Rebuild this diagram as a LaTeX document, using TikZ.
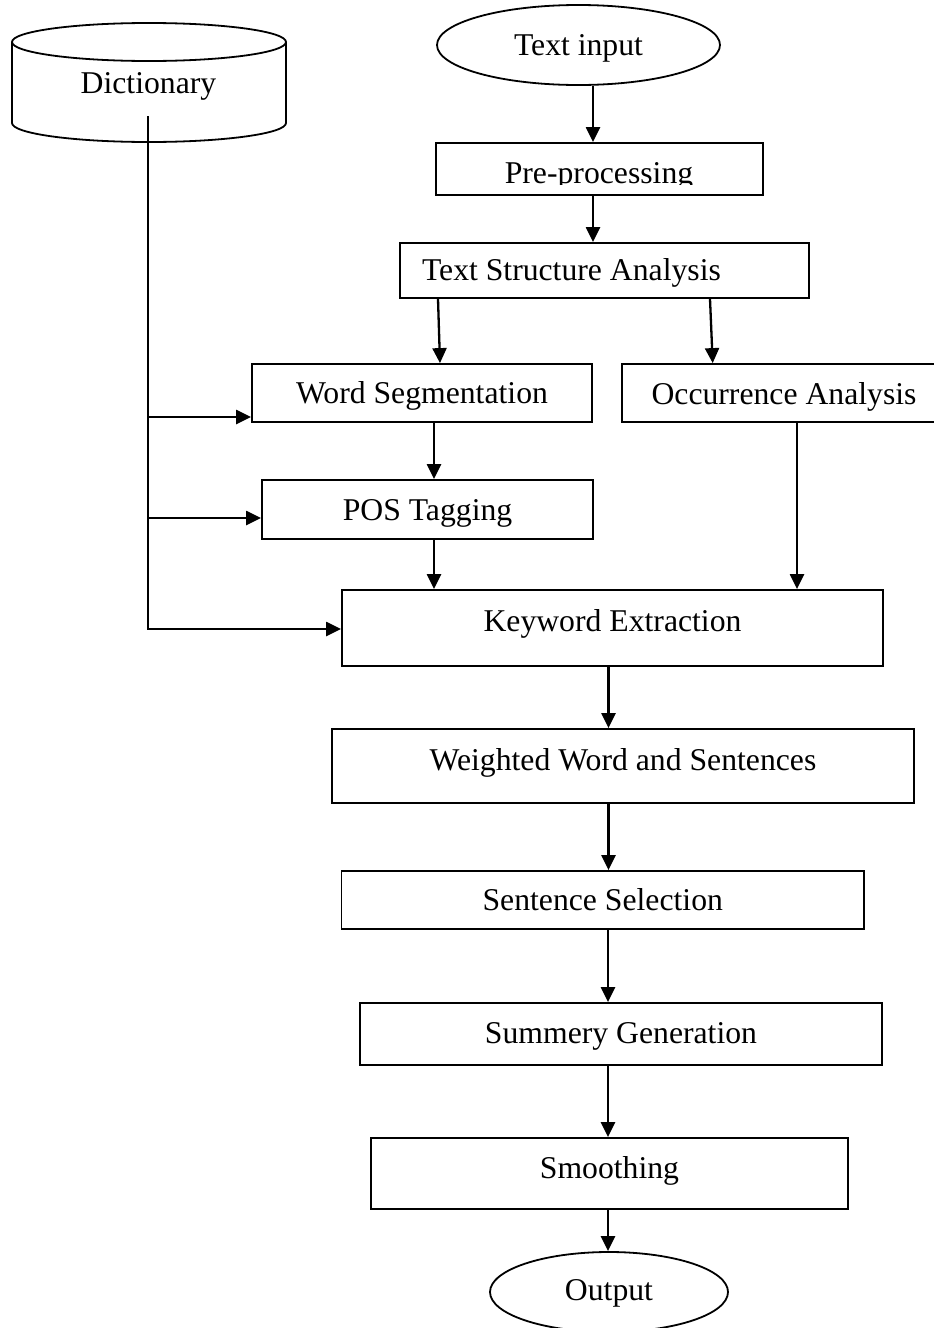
\documentclass[tikz,border=0pt]{standalone}
\usepackage{fontspec}
\setmainfont{Liberation Serif}
\usetikzlibrary{arrows.meta,shapes.geometric,calc}
\begin{document}
\begin{tikzpicture}[x=1pt,y=-1pt,
  every node/.style={font=\fontsize{31.7}{38}\selectfont, inner sep=0pt},
  flowbox/.style={draw, line width=1.8pt, rectangle, text height=22pt},
  oval/.style={draw, line width=1.8pt, ellipse, text height=22pt},
  flow/.style={line width=2.3pt, -{Triangle[length=15pt,width=14pt]}},
  drum/.style={line width=1.8pt}]

\clip (0,0) rectangle (934,1328);

% dictionary store
\draw[drum] (149,42) ellipse [x radius=137, y radius=19];
\draw[drum] (12,42) -- (12,123) arc[start angle=180, end angle=0, x radius=137, y radius=19] -- (286,42);
\node[anchor=base] (dict) at (148.5,93) {Dictionary};

% main chain
\node[oval, minimum width=283, minimum height=80, text depth=2pt] (tin) at (578.5,45) {Text input};
\node[flowbox, minimum width=327, minimum height=52] (pre) at (599.5,169) {};
\begin{scope}
  \clip (pre.north west) rectangle ([yshift=-15pt]pre.east);
  \node[anchor=base] (pretext) at (599,183) {Pre-processing};
\end{scope}
\node[flowbox, minimum width=409, minimum height=55, text depth=3pt] (tsa) at (604.5,270.5)
  {\makebox[365pt][l]{Text Structure Analysis}};
\node[flowbox, minimum width=340, minimum height=58, text depth=2pt] (ws) at (422,393) {Word Segmentation};
\node[flowbox, minimum width=324, minimum height=58, text depth=0pt] (occ) at (784,393) {Occurrence Analysis};
\node[flowbox, minimum width=331, minimum height=59, text depth=1pt] (pos) at (427.5,509.5) {POS Tagging};
\node[flowbox, minimum width=541, minimum height=76, text depth=16pt] (kw) at (612.5,628) {Keyword Extraction};
\node[flowbox, minimum width=582, minimum height=74, text depth=14pt] (ww) at (623,766) {Weighted Word and Sentences};
\node[flowbox, minimum width=522.5, minimum height=58, text depth=2pt] (ss) at (602.75,900) {Sentence Selection};
\node[flowbox, minimum width=522, minimum height=62, text depth=4pt] (sg) at (621,1034) {Summery Generation};
\node[flowbox, minimum width=477, minimum height=71, text depth=13pt] (sm) at (609.5,1173.5) {Smoothing};
\node[oval, minimum width=238, minimum height=80, text depth=6pt] (out) at (609,1292) {Output};

% dictionary feed lines
\coordinate (dictout) at (148,116);
\coordinate (j1) at (148,417);
\coordinate (j2) at (148,518);
\coordinate (j3) at (148,629);
\draw[flow] (dictout) -- (j3) -- (j3 -| kw.west);
\draw[flow] (j1) -- (j1 -| ws.west);
\draw[flow] (j2) -- (j2 -| pos.west);

% flow arrows
\draw[flow] ([xshift=14.5pt]tin.south) -- ([xshift=14.5pt]tin.south |- pre.north);
\draw[flow] ([xshift=-6.5pt]pre.south) -- ([xshift=-6.5pt]pre.south |- tsa.north);
\draw[flow] ([xshift=-166.5pt]tsa.south) -- ([xshift=18pt]ws.north);
\draw[flow] ([xshift=105.5pt]tsa.south) -- ([xshift=-71.3pt]occ.north);
\draw[flow] ([xshift=12pt]ws.south) -- ([xshift=12pt]ws.south |- pos.north);
\draw[flow] ([xshift=6.5pt]pos.south) -- ([xshift=6.5pt]pos.south |- kw.north);
\draw[flow] ([xshift=13pt]occ.south) -- ([xshift=13pt]occ.south |- kw.north);
\draw[flow] ([xshift=-4pt]kw.south) -- ([xshift=-4pt]kw.south |- ww.north);
\draw[flow] ([xshift=-14.5pt]ww.south) -- ([xshift=-14.5pt]ww.south |- ss.north);
\draw[flow] ([xshift=5.25pt]ss.south) -- ([xshift=5.25pt]ss.south |- sg.north);
\draw[flow] ([xshift=-13pt]sg.south) -- ([xshift=-13pt]sg.south |- sm.north);
\draw[flow] ([xshift=-1.5pt]sm.south) -- ([xshift=-1.5pt]sm.south |- out.north);
\end{tikzpicture}
\end{document}
